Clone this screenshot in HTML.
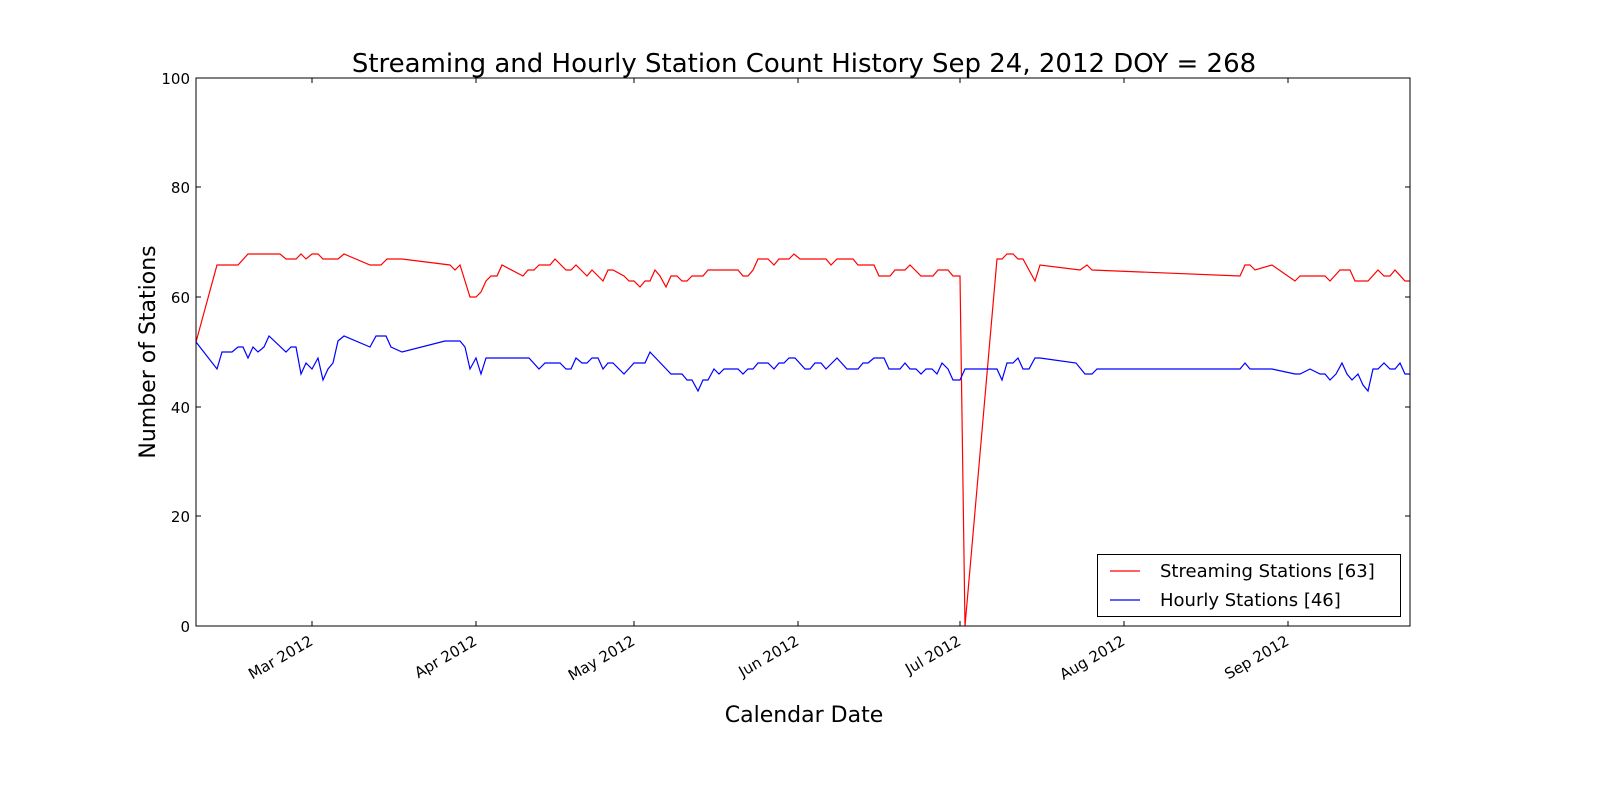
<!DOCTYPE html>
<html><head><meta charset="utf-8"><style>
html,body{margin:0;padding:0;background:#fff;}
svg text{font-family:"DejaVu Sans","Liberation Sans",sans-serif;}
</style></head><body>
<svg width="1600" height="800" viewBox="0 0 1600 800" xmlns="http://www.w3.org/2000/svg">
<rect width="1600" height="800" fill="#fff"/>
<text x="804" y="72" font-size="26" text-anchor="middle">Streaming and Hourly Station Count History Sep 24, 2012 DOY = 268</text>
<text x="804" y="722" font-size="22" text-anchor="middle">Calendar Date</text>
<text transform="translate(155,352) rotate(-90)" font-size="22" text-anchor="middle">Number of Stations</text>
<g font-size="15" text-anchor="end">
<text x="190" y="632">0</text><text x="190" y="522">20</text><text x="190" y="413">40</text><text x="190" y="303">60</text><text x="190" y="193">80</text><text x="190" y="84">100</text>
</g>
<g stroke="#000" stroke-width="1">
<path d="M196 626h5M196 516h5M196 407h5M196 297h5M196 187h5M196 78h5M1410 626h-5M1410 516h-5M1410 407h-5M1410 297h-5M1410 187h-5M1410 78h-5"/>
<path d="M312 626v-5M476 626v-5M634 626v-5M798 626v-5M960 626v-5M1124 626v-5M1288 626v-5M312 78v5M476 78v5M634 78v5M798 78v5M960 78v5M1124 78v5M1288 78v5"/>
</g>
<g font-size="15" text-anchor="end">
<text transform="translate(314,644) rotate(-30)">Mar 2012</text>
<text transform="translate(478,644) rotate(-30)">Apr 2012</text>
<text transform="translate(636,644) rotate(-30)">May 2012</text>
<text transform="translate(800,644) rotate(-30)">Jun 2012</text>
<text transform="translate(962,644) rotate(-30)">Jul 2012</text>
<text transform="translate(1126,644) rotate(-30)">Aug 2012</text>
<text transform="translate(1290,644) rotate(-30)">Sep 2012</text>
</g>
<polyline fill="none" stroke="#f00" stroke-width="1.2" points="196,342 217,265 238,265 248,254 280,254 286,259 296,259 301,254 306,259 312,254 318,254 323,259 338,259 344,254 370,265 381,265 387,259 402,259 450,265 455,270 460,265 470,297 476,297 481,292 486,281 491,276 497,276 502,265 523,276 528,270 534,270 539,265 550,265 555,259 566,270 571,270 576,265 587,276 592,270 603,281 608,270 613,270 624,276 629,281 634,281 640,287 645,281 650,281 655,270 660,276 666,287 671,276 677,276 682,281 687,281 692,276 703,276 708,270 738,270 743,276 748,276 753,270 758,259 768,259 774,265 779,259 789,259 794,254 800,259 826,259 831,265 837,259 853,259 858,265 874,265 879,276 890,276 895,270 905,270 910,265 921,276 933,276 938,270 948,270 953,276 960,276 965,626 997,259 1002,259 1007,254 1013,254 1018,259 1023,259 1035,281 1040,265 1080,270 1087,265 1092,270 1240,276 1245,265 1250,265 1255,270 1272,265 1295,281 1300,276 1325,276 1330,281 1340,270 1350,270 1355,281 1368,281 1378,270 1384,276 1390,276 1395,270 1405,281 1410,281"/>
<polyline fill="none" stroke="#00f" stroke-width="1.2" points="196,342 217,369 222,352 232,352 238,347 243,347 248,358 253,347 258,352 264,347 269,336 286,352 291,347 296,347 301,374 306,363 312,369 318,358 323,380 328,369 333,363 338,341 344,336 370,347 376,336 386,336 391,347 402,352 445,341 460,341 465,347 470,369 476,358 481,374 486,358 529,358 539,369 545,363 560,363 566,369 571,369 576,358 582,363 587,363 592,358 598,358 603,369 608,363 613,363 624,374 634,363 645,363 650,352 671,374 682,374 687,380 692,380 698,391 703,380 708,380 714,369 719,374 724,369 738,369 743,374 748,369 753,369 758,363 768,363 774,369 779,363 784,363 789,358 795,358 805,369 810,369 815,363 821,363 826,369 837,358 847,369 858,369 863,363 868,363 874,358 884,358 889,369 900,369 905,363 910,369 916,369 921,374 926,369 932,369 937,374 942,363 948,369 953,380 960,380 965,369 997,369 1002,380 1007,363 1013,363 1018,358 1023,369 1029,369 1035,358 1040,358 1076,363 1085,374 1092,374 1097,369 1240,369 1245,363 1250,369 1272,369 1295,374 1300,374 1310,369 1320,374 1325,374 1330,380 1336,374 1342,363 1347,374 1352,380 1358,374 1363,385 1368,391 1373,369 1378,369 1384,363 1390,369 1395,369 1400,363 1405,374 1410,374"/>
<rect x="196" y="78" width="1214" height="548" fill="none" stroke="#000" stroke-width="1"/>
<rect x="1097.5" y="554.5" width="303" height="62" fill="#fff" stroke="#000" stroke-width="1"/>
<line x1="1110" y1="571" x2="1140" y2="571" stroke="#f00" stroke-width="1.2"/>
<line x1="1110" y1="600" x2="1140" y2="600" stroke="#00f" stroke-width="1.2"/>
<text x="1160" y="577" font-size="18">Streaming Stations [63]</text>
<text x="1160" y="606" font-size="18">Hourly Stations [46]</text>
</svg>
</body></html>
